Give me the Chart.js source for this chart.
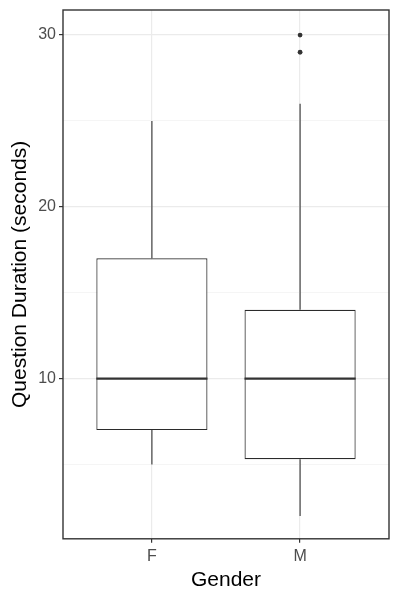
<!DOCTYPE html>
<html>
<head>
<meta charset="utf-8">
<script src="https://cdn.jsdelivr.net/npm/chart.js@4.4.1/dist/chart.umd.min.js"></script>
<style>
  html, body { margin: 0; padding: 0; background: #fff; }
  #wrap { width: 400px; height: 600px; }
</style>
</head>
<body>
<div id="wrap"><canvas id="c" width="400" height="600"></canvas></div>
<script>
// Data
const categories = ['F', 'M'];
const positions = [1, 2];
const whiskerLow = [5, 2];
const q1 = [7, 5.3];
const median = [10, 10];
const q3 = [17, 14];
const whiskerHigh = [25, 26];
const outliers = [[], [29, 30]];
const yTicks = [5, 10, 15, 20, 25, 30];
const boxWidth = 0.75;

const ink = '#333333';
const datasets = [];

// boxes as floating bars
datasets.push({
  type: 'bar',
  data: positions.map((p, i) => ({ x: p, y: [q1[i], q3[i]] })),
  backgroundColor: '#ffffff',
  borderColor: '#2b2b2b',
  borderWidth: 1.2,
  borderSkipped: false,
  categoryPercentage: 1,
  barPercentage: boxWidth,
  grouped: false,
  order: 2
});

positions.forEach((p, i) => {
  const lineBase = { type: 'line', borderColor: ink, pointRadius: 0, fill: false, order: 1 };
  // median
  datasets.push(Object.assign({}, lineBase, {
    borderWidth: 2.2,
    data: [{ x: p - boxWidth / 2, y: median[i] }, { x: p + boxWidth / 2, y: median[i] }]
  }));
  // upper whisker
  datasets.push(Object.assign({}, lineBase, {
    borderWidth: 1.1,
    data: [{ x: p, y: q3[i] }, { x: p, y: whiskerHigh[i] }]
  }));
  // lower whisker
  datasets.push(Object.assign({}, lineBase, {
    borderWidth: 1.1,
    data: [{ x: p, y: q1[i] }, { x: p, y: whiskerLow[i] }]
  }));
  if (outliers[i].length) {
    datasets.push({
      type: 'scatter',
      data: outliers[i].map(v => ({ x: p, y: v })),
      backgroundColor: ink,
      borderColor: ink,
      pointRadius: 2.4,
      borderWidth: 0,
      order: 0
    });
  }
});

const panelBorder = {
  id: 'panelBorder',
  afterDatasetsDraw(chart) {
    const a = chart.chartArea, ctx = chart.ctx;
    ctx.save();
    ctx.strokeStyle = ink;
    ctx.lineWidth = 1.4;
    ctx.strokeRect(a.left, a.top, a.right - a.left, a.bottom - a.top);
    ctx.restore();
  }
};

const fam = 'Liberation Sans, Arial, sans-serif';

new Chart(document.getElementById('c'), {
  type: 'bar',
  data: { datasets },
  plugins: [panelBorder],
  options: {
    responsive: false,
    animation: false,
    layout: { padding: { top: 10, right: 11, left: 3, bottom: 5 } },
    plugins: { legend: { display: false }, tooltip: { enabled: false } },
    scales: {
      x: {
        type: 'linear',
        offset: false,
        min: 0.4,
        max: 2.6,
        afterBuildTicks(scale) { scale.ticks = positions.map(v => ({ value: v })); },
        grid: { offset: false, color: '#EBEBEB', lineWidth: 1.2, tickColor: ink, tickLength: 4 },
        border: { display: false },
        ticks: {
          color: '#4D4D4D',
          font: { family: fam, size: 16 },
          padding: 4,
          autoSkip: false,
          maxRotation: 0,
          callback: (v) => categories[positions.indexOf(v)] || ''
        },
        title: {
          display: true, text: 'Gender', color: '#000',
          font: { family: fam, size: 21, lineHeight: 1.0 },
          padding: { top: 0, bottom: 4 }
        }
      },
      y: {
        type: 'linear',
        min: 0.67,
        max: 31.46,
        afterBuildTicks(scale) { scale.ticks = yTicks.map(v => ({ value: v })); },
        afterFit(scale) { scale.paddingTop = 0; scale.paddingBottom = 0; },
        grid: {
          color: (c) => (c.tick && c.tick.value % 10 === 0) ? '#EBEBEB' : '#F2F2F2',
          lineWidth: (c) => (c.tick && c.tick.value % 10 === 0) ? 1.2 : 0.8,
          tickColor: (c) => (c.tick && c.tick.value % 10 === 0) ? ink : 'rgba(0,0,0,0)',
          tickLength: 4
        },
        border: { display: false },
        ticks: {
          color: '#4D4D4D',
          font: { family: fam, size: 16 },
          padding: 3,
          callback: (v) => (v % 10 === 0) ? String(v) : ''
        },
        title: {
          display: true, text: 'Question Duration (seconds)', color: '#000',
          font: { family: fam, size: 21 },
          padding: { top: 5, bottom: 2 }
        }
      }
    }
  }
});
</script>
</body>
</html>
